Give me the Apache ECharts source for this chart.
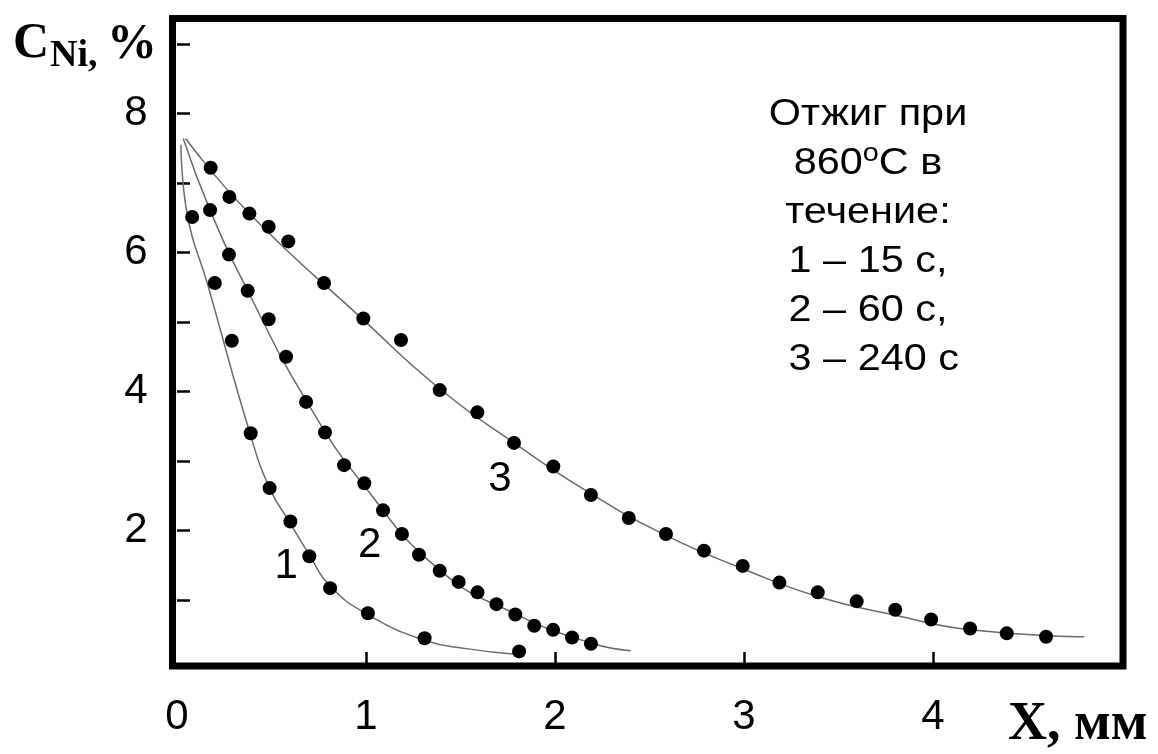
<!DOCTYPE html>
<html>
<head>
<meta charset="utf-8">
<script src="https://cdn.jsdelivr.net/npm/echarts@6/dist/echarts.min.js"></script>
<style>
html,body{margin:0;padding:0;background:#fff;}
#chart{width:1158px;height:754px;}
</style>
</head>
<body>
<div id="chart"></div>
<script>
// ---- data ----
const xTicks = [1, 2, 3, 4];
const xTickLabels = [0, 1, 2, 3, 4];
const yTicks = [1, 2, 3, 4, 5, 6, 7, 8, 9];
const yTickLabels = [2, 4, 6, 8];

// measured points (x, mm ; C, %)
const dots1 = [[0.08,6.51],[0.20,5.56],[0.29,4.73],[0.39,3.40],[0.49,2.61],[0.60,2.13],[0.70,1.63],[0.81,1.17],[1.01,0.81],[1.31,0.45],[1.81,0.26]];
const dots2 = [[0.175,6.61],[0.275,5.97],[0.374,5.45],[0.485,5.04],[0.577,4.50],[0.683,3.85],[0.783,3.41],[0.884,2.94],[0.991,2.68],[1.09,2.29],[1.19,1.95],[1.28,1.65],[1.39,1.42],[1.49,1.26],[1.59,1.11],[1.69,0.94],[1.79,0.79],[1.89,0.63],[1.99,0.57],[2.09,0.46],[2.19,0.37]];
const dots3 = [[0.178,7.22],[0.277,6.80],[0.383,6.56],[0.485,6.37],[0.589,6.16],[0.778,5.56],[0.986,5.05],[1.185,4.74],[1.39,4.02],[1.589,3.70],[1.783,3.26],[1.991,2.92],[2.19,2.51],[2.39,2.18],[2.587,1.95],[2.788,1.71],[2.993,1.49],[3.187,1.25],[3.39,1.11],[3.596,0.98],[3.80,0.86],[3.99,0.72],[4.196,0.59],[4.39,0.52],[4.598,0.47]];

// fitted curves
const curve1 = [[0.021,7.55],[0.056,6.52],[0.16,5.56],[0.386,3.40],[0.49,2.61],[0.60,2.10],[0.70,1.65],[0.81,1.20],[1.01,0.79],[1.31,0.42],[1.53,0.30],[1.79,0.22]];
const curve2 = [[0.033,7.64],[0.175,6.61],[0.374,5.45],[0.683,3.87],[0.991,2.64],[1.39,1.43],[1.79,0.80],[2.19,0.38],[2.40,0.27]];
const curve3 = [[0.046,7.64],[0.383,6.56],[0.986,5.03],[1.39,4.04],[1.783,3.26],[2.19,2.53],[2.587,1.93],[2.993,1.45],[3.39,1.05],[3.80,0.78],[4.20,0.57],[4.80,0.47]];

// curve numbers
const curveLabels = [[0.577,1.49,'1'],[1.02,1.79,'2'],[1.709,2.73,'3']];

const yTitleMain = 'C';
const yTitleSub = 'Ni,';
const yTitleUnit = '%';
const xTitle = 'X, мм';
const noteLines = ['Отжиг при', '860{sup|o}C в', 'течение:', '1 – 15 с,', '2 – 60 с,', ' 3 – 240 с'];

const chart = echarts.init(document.getElementById('chart'), null, {renderer: 'canvas'});

const lineStyle = {color: '#6a6a6a', width: 1.5, opacity: 1};
function curveSeries(d) {
  return {type: 'line', data: d, smooth: 0.5, showSymbol: false, symbol: 'none',
          lineStyle: lineStyle, z: 2, silent: true, animation: false};
}
function dotSeries(d) {
  return {type: 'scatter', data: d, symbol: 'circle', symbolSize: 14,
          itemStyle: {color: '#000', opacity: 1}, z: 3, silent: true, animation: false};
}

chart.setOption({
  backgroundColor: '#ffffff',
  animation: false,
  grid: {left: 172.5, top: 18.5, right: 35, bottom: 88, show: true,
         borderColor: '#000', borderWidth: 7, backgroundColor: 'transparent'},
  xAxis: {
    type: 'value', min: -0.0238, max: 5.005,
    axisLine: {show: false},
    splitLine: {show: false},
    axisTick: {show: true, inside: true, length: 14, lineStyle: {color: '#000', width: 2.5}, customValues: xTicks},
    axisLabel: {show: true, margin: 30, fontSize: 42, color: '#000', fontFamily: 'Liberation Sans, Arial, sans-serif',
                customValues: xTickLabels}
  },
  yAxis: {
    type: 'value', min: 0.05, max: 9.367,
    axisLine: {show: false},
    splitLine: {show: false},
    axisTick: {show: true, inside: true, length: 13, lineStyle: {color: '#000', width: 2.5}, customValues: yTicks},
    axisLabel: {show: true, margin: 25, fontSize: 42, color: '#000', fontFamily: 'Liberation Sans, Arial, sans-serif',
                padding: [7, 0, 0, 0], customValues: yTickLabels}
  },
  series: [
    curveSeries(curve1), curveSeries(curve2), curveSeries(curve3),
    dotSeries(dots1), dotSeries(dots2), dotSeries(dots3),
    {type: 'scatter', data: curveLabels, symbolSize: 0, silent: true, z: 4,
     itemStyle: {opacity: 1},
     label: {show: true, position: 'inside', formatter: p => p.data[2], fontSize: 42, color: '#000', opacity: 1,
             fontFamily: 'Liberation Sans, Arial, sans-serif'}}
  ],
  graphic: [
    {type: 'text', x: 13, y: 44, style: {text: yTitleMain, font: 'bold 50px "Liberation Serif", "Times New Roman", serif', fill: '#000', textAlign: 'left', textVerticalAlign: 'middle'}},
    {type: 'text', x: 50, y: 56, style: {text: yTitleSub, font: 'bold 38px "Liberation Serif", "Times New Roman", serif', fill: '#000', textAlign: 'left', textVerticalAlign: 'middle'}},
    {type: 'text', x: 107, y: 45, style: {text: yTitleUnit, font: 'bold 50px "Liberation Serif", "Times New Roman", serif', fill: '#000', textAlign: 'left', textVerticalAlign: 'middle'}},
    {type: 'text', x: 1008, y: 725, style: {text: xTitle, font: 'bold 54px "Liberation Serif", "Times New Roman", serif', fill: '#000', textAlign: 'left', textVerticalAlign: 'middle'}},
    {type: 'text', x: 868, y: 237.5, scaleX: 1.15,
     style: {text: noteLines.join('\n'), x: 0, y: 0, align: 'center', verticalAlign: 'middle',
             fontSize: 36, lineHeight: 49, fontFamily: 'Liberation Sans, Arial, sans-serif', fill: '#000',
             rich: {sup: {fontSize: 25, verticalAlign: 'top', padding: [2, 0, 0, 0], fill: '#000', fontFamily: 'Liberation Sans, Arial, sans-serif'}}}}
  ]
});
</script>
</body>
</html>
